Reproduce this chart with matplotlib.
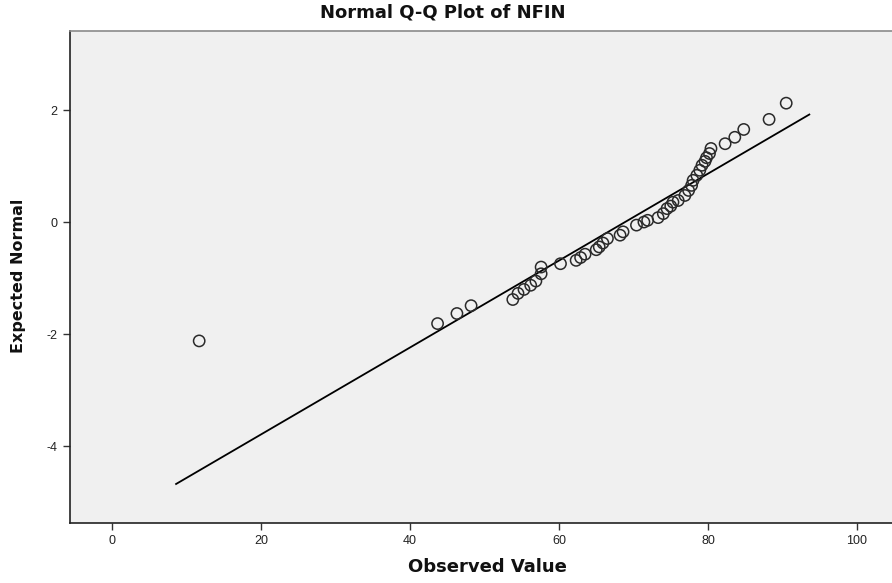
import matplotlib
matplotlib.use("Agg")
import matplotlib.pyplot as plt
import numpy as np

plt.rcParams["axes.unicode_minus"] = False

observed = [11.7, 43.7, 46.3, 48.2, 53.8, 54.5, 55.3, 56.2, 56.9, 57.6, 57.6,
            60.2, 62.3, 62.9, 63.5, 65.0, 65.4, 65.9, 66.5, 68.2, 68.6, 70.4,
            71.4, 71.9, 73.3, 74.0, 74.5, 75.0, 75.3, 76.0, 76.9, 77.4, 77.8,
            78.0, 78.5, 78.9, 79.2, 79.6, 79.8, 80.2, 80.4, 82.3, 83.6, 84.8,
            88.2, 90.5]
expected = [-2.12, -1.81, -1.63, -1.49, -1.38, -1.27, -1.20, -1.125, -1.05, -0.92, -0.80,
            -0.74, -0.68, -0.63, -0.57, -0.49, -0.44, -0.37, -0.29, -0.23, -0.17, -0.05,
            0.005, 0.036, 0.084, 0.155, 0.245, 0.29, 0.36, 0.39, 0.48, 0.57, 0.66,
            0.75, 0.84, 0.93, 1.02, 1.09, 1.155, 1.23, 1.32, 1.405, 1.52, 1.66,
            1.84, 2.13]

# Reference normal line: mean and standard deviation, and its x extent
line_mean = 68.8
line_sd = 12.87
line_x_range = [8.6, 93.6]

x_ticks = [0, 20, 40, 60, 80, 100]
y_ticks = [-4, -2, 0, 2]

W, H = 892, 583
fig = plt.figure(figsize=(W / 100, H / 100), dpi=100)
fig.patch.set_facecolor("white")
ax = fig.add_axes([70 / W, (H - 523) / H, 1 - 70 / W, (523 - 31) / H])
ax.set_facecolor("#F0F0F0")

lx = np.array(line_x_range)
ly = (lx - line_mean) / line_sd
ax.plot(lx, ly, color="black", lw=1.3, zorder=2)

ax.scatter(observed, expected, s=66, facecolors="none", edgecolors="#2a2a2a",
           linewidths=1.1, zorder=3)

ax.set_xlim(-5.64, 104.7)
ax.set_ylim(-5.375, 3.42)
ax.set_xticks(x_ticks)
ax.set_yticks(y_ticks)

for s in ["left", "bottom"]:
    ax.spines[s].set_color("#222222")
    ax.spines[s].set_linewidth(1.2)
ax.spines["top"].set_color("#8a8a8a")
ax.spines["top"].set_linewidth(1.2)
ax.spines["right"].set_visible(False)

ax.tick_params(axis="both", direction="out", length=5, width=1, color="#333333",
               labelsize=9, labelcolor="#222222", pad=4)
for lab in ax.get_xticklabels() + ax.get_yticklabels():
    lab.set_fontfamily("Liberation Sans")

fig.text(443 / W, 1 - 13 / H, "Normal Q-Q Plot of NFIN", ha="center", va="center",
         fontsize=13, fontweight="bold", family="DejaVu Sans", color="#111111")
fig.text(487 / W, 1 - 567 / H, "Observed Value", ha="center", va="center",
         fontsize=13, fontweight="bold", family="DejaVu Sans", color="#111111")
fig.text(19 / W, 1 - 276 / H, "Expected Normal", ha="center", va="center",
         rotation=90, fontsize=11.5, fontweight="bold", family="DejaVu Sans",
         color="#111111")

fig.savefig("out.png", dpi=100)
